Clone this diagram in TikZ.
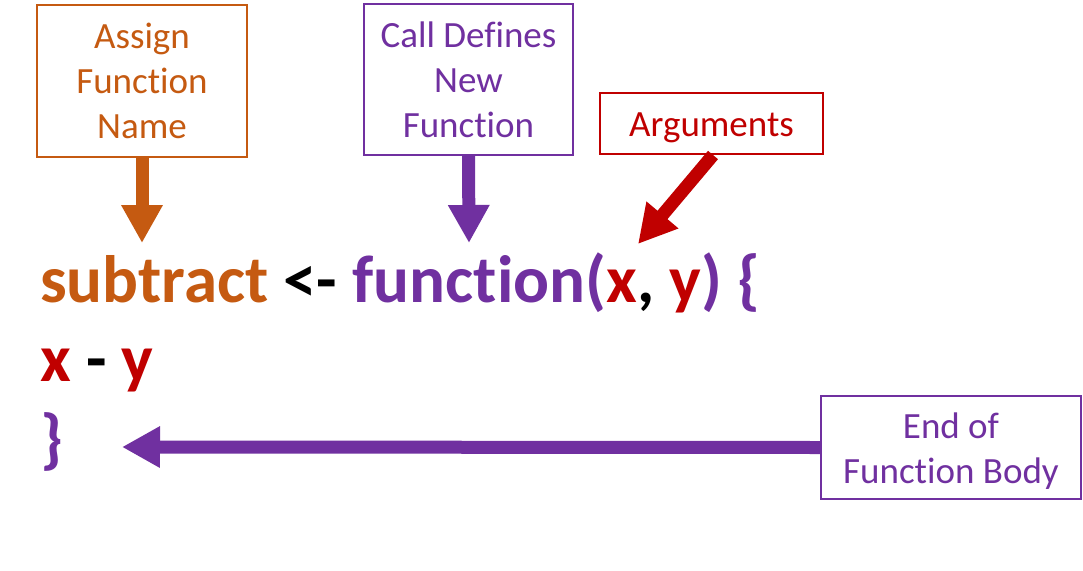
\documentclass[tikz,border=0pt]{standalone}
\usepackage{fontspec}
\setmainfont{Carlito}[Ligatures={NoCommon}]
\usetikzlibrary{arrows.meta}
\definecolor{cOrange}{HTML}{C55A11}
\definecolor{cPurple}{HTML}{7030A0}
\definecolor{cRed}{HTML}{C00000}
\newcommand\lowered[2]{\raisebox{#1}[\height][\depth]{\begin{tabular}{@{}c@{}}#2\end{tabular}}}
\tikzset{
  labelbox/.style={draw=#1, text=#1, line width=2pt, fill=white, align=center, inner sep=0pt,
    font=\fontsize{37}{45}\selectfont},
  codeline/.style={anchor=base west, inner sep=0pt, font=\fontsize{67}{80}\selectfont\bfseries},
  bigarrow/.style={draw=#1, line width=13pt, -{Triangle[width=39pt,length=38pt]}}
}
\begin{document}
\begin{tikzpicture}[x=1pt,y=-1pt]
\useasboundingbox[fill=white] (0,0) rectangle (1083,570);
% label boxes
\node[labelbox=cOrange, minimum width=210pt, minimum height=152pt] (assign) at (142,81) {Assign\\Function\\Name};
\node[labelbox=cPurple, minimum width=209pt, minimum height=151pt] (calldef) at (468.5,79.5) {Call Defines\\New\\Function};
\node[labelbox=cRed, minimum width=223pt, minimum height=61pt] (args) at (711.5,123.5) {\lowered{-4pt}{Arguments}};
\node[labelbox=cPurple, minimum width=260pt, minimum height=103pt] (endbody) at (951,447.5) {\lowered{-4pt}{End of\\Function Body}};
% code
\node[codeline] (line1) at (40,302) {\textcolor{cOrange}{subtract} <- \textcolor{cPurple}{function(}\textcolor{cRed}{x}, \textcolor{cRed}{y}\textcolor{cPurple}{) \{}};
\node[codeline] (line2) at (40,381) {\textcolor{cRed}{x} - \textcolor{cRed}{y}};
\node[codeline, text=cPurple] (line3) at (40,461) {\}};
% arrow targets
\coordinate (tipA) at (142,243);
\coordinate (tipB) at (469,243);
\coordinate (tipC) at (638,244);
\coordinate (tipD) at (122,447);
% arrows
\draw[bigarrow=cOrange] (assign.south) -- (tipA);
\draw[bigarrow=cPurple] (calldef.south) -- (tipB);
\draw[bigarrow=cRed] ([xshift=1.5pt]args.south) -- (tipC);
\draw[bigarrow=cPurple] (endbody.west) -- (tipD);
\end{tikzpicture}
\end{document}
